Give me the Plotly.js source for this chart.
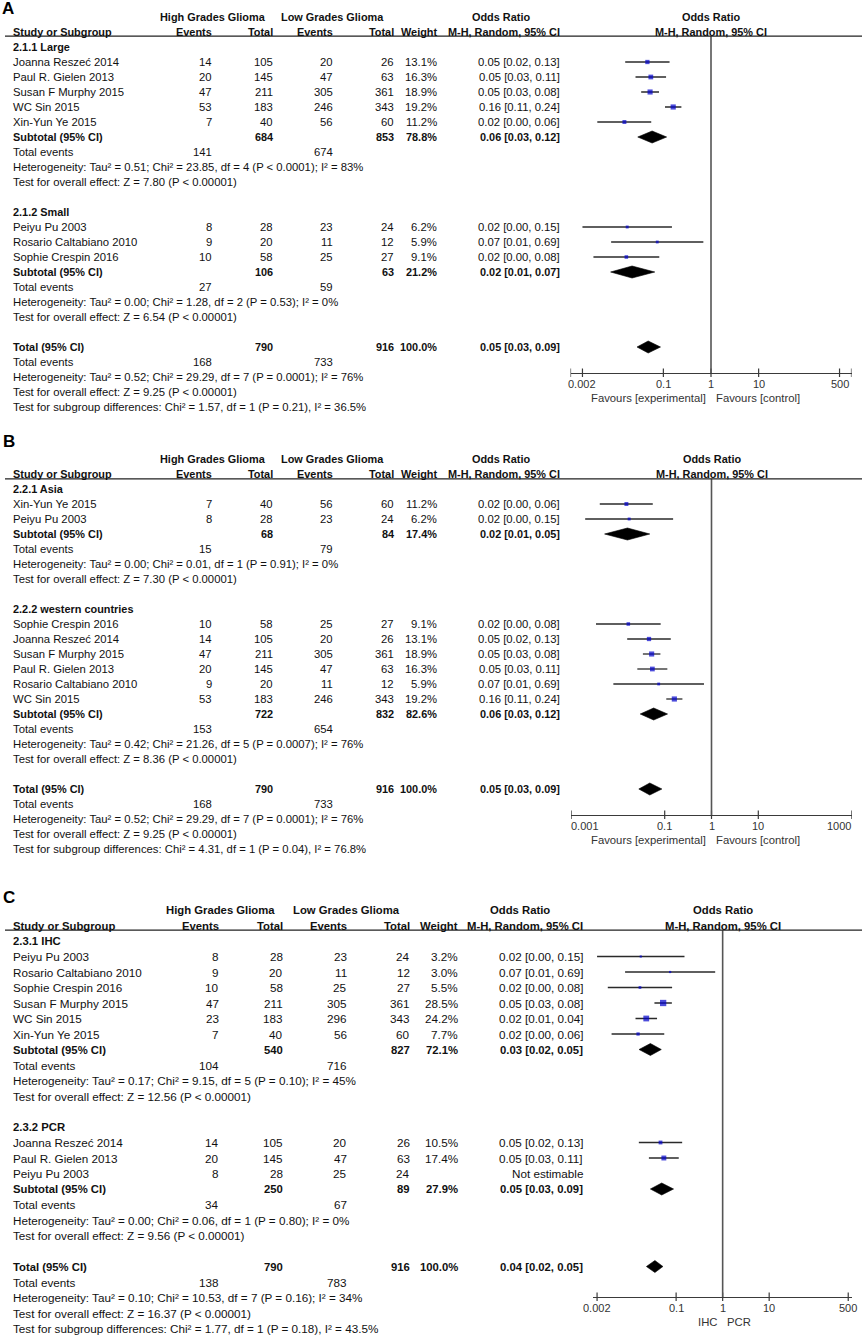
<!DOCTYPE html>
<html><head><meta charset="utf-8">
<script src="https://cdn.plot.ly/plotly-3.0.1.min.js"></script>
<style>html,body{margin:0;padding:0;background:#fff}</style>
</head><body><div id="chart" style="width:866px;height:1339px"></div>
<script>
// ================= DATA =================
const headerGroups = ['High Grades Glioma', 'Low Grades Glioma'];
const headerCols = ['Study or Subgroup', 'Events', 'Total', 'Events', 'Total', 'Weight', 'M-H, Random, 95% CI'];
const effectTitle = ['Odds Ratio', 'M-H, Random, 95% CI'];
const panelLetters = ['A', 'B', 'C'];

// ----- Panel A -----
const A_subgroups = ['2.1.1 Large', '2.1.2 Small'];
const A_studies = ['Joanna Reszeć 2014', 'Paul R. Gielen 2013', 'Susan F Murphy 2015', 'WC Sin 2015', 'Xin-Yun Ye 2015', 'Peiyu Pu 2003', 'Rosario Caltabiano 2010', 'Sophie Crespin 2016'];
const A_studyGroup = [0, 0, 0, 0, 0, 1, 1, 1];
const A_hiEvents = [14, 20, 47, 53, 7, 8, 9, 10];
const A_hiTotal = [105, 145, 211, 183, 40, 28, 20, 58];
const A_loEvents = [20, 47, 305, 246, 56, 23, 11, 25];
const A_loTotal = [26, 63, 361, 343, 60, 24, 12, 27];
const A_weight = [13.1, 16.3, 18.9, 19.2, 11.2, 6.2, 5.9, 9.1];
const A_or = [0.0462, 0.0545, 0.0526, 0.1608, 0.0152, 0.0174, 0.0744, 0.0167];
const A_orLow = [0.0158, 0.0260, 0.0342, 0.1081, 0.0041, 0.0020, 0.0080, 0.0034];
const A_orHigh = [0.1348, 0.1139, 0.0810, 0.2390, 0.0556, 0.1513, 0.6908, 0.0820];
const A_orText = ['0.05 [0.02, 0.13]', '0.05 [0.03, 0.11]', '0.05 [0.03, 0.08]', '0.16 [0.11, 0.24]', '0.02 [0.00, 0.06]', '0.02 [0.00, 0.15]', '0.07 [0.01, 0.69]', '0.02 [0.00, 0.08]'];
const A_subHiTotal = [684, 106];
const A_subLoTotal = [853, 63];
const A_subWeight = [78.8, 21.2];
const A_subHiEvents = [141, 27];
const A_subLoEvents = [674, 59];
const A_subOr = [0.058, 0.022];
const A_subLow = [0.029, 0.0078];
const A_subHigh = [0.117, 0.066];
const A_subText = ['0.06 [0.03, 0.12]', '0.02 [0.01, 0.07]'];
const A_subHet = ['Heterogeneity: Tau² = 0.51; Chi² = 23.85, df = 4 (P < 0.0001); I² = 83%', 'Heterogeneity: Tau² = 0.00; Chi² = 1.28, df = 2 (P = 0.53); I² = 0%'];
const A_subTest = ['Test for overall effect: Z = 7.80 (P < 0.00001)', 'Test for overall effect: Z = 6.54 (P < 0.00001)'];
const A_total = [790, 916];
const A_totalEvents = [168, 733];
const A_totalWeight = 100.0;
const A_totalOr = [0.048, 0.028, 0.087];
const A_totalText = '0.05 [0.03, 0.09]';
const A_totalNotes = ['Heterogeneity: Tau² = 0.52; Chi² = 29.29, df = 7 (P = 0.0001); I² = 76%', 'Test for overall effect: Z = 9.25 (P < 0.00001)', 'Test for subgroup differences: Chi² = 1.57, df = 1 (P = 0.21), I² = 36.5%'];
const A_tickVals = [0.002, 0.1, 1, 10, 500];
const A_tickText = ['0.002', '0.1', '1', '10', '500'];
const A_axisLabels = ['Favours [experimental]', 'Favours [control]'];

// ----- Panel B -----
const B_subgroups = ['2.2.1 Asia', '2.2.2 western countries'];
const B_studies = ['Xin-Yun Ye 2015', 'Peiyu Pu 2003', 'Sophie Crespin 2016', 'Joanna Reszeć 2014', 'Susan F Murphy 2015', 'Paul R. Gielen 2013', 'Rosario Caltabiano 2010', 'WC Sin 2015'];
const B_studyGroup = [0, 0, 1, 1, 1, 1, 1, 1];
const B_hiEvents = [7, 8, 10, 14, 47, 20, 9, 53];
const B_hiTotal = [40, 28, 58, 105, 211, 145, 20, 183];
const B_loEvents = [56, 23, 25, 20, 305, 47, 11, 246];
const B_loTotal = [60, 24, 27, 26, 361, 63, 12, 343];
const B_weight = [11.2, 6.2, 9.1, 13.1, 18.9, 16.3, 5.9, 19.2];
const B_or = [0.0152, 0.0174, 0.0167, 0.0462, 0.0526, 0.0545, 0.0744, 0.1608];
const B_orLow = [0.0041, 0.0020, 0.0034, 0.0158, 0.0342, 0.0260, 0.0080, 0.1081];
const B_orHigh = [0.0556, 0.1513, 0.0820, 0.1348, 0.0810, 0.1139, 0.6908, 0.2390];
const B_orText = ['0.02 [0.00, 0.06]', '0.02 [0.00, 0.15]', '0.02 [0.00, 0.08]', '0.05 [0.02, 0.13]', '0.05 [0.03, 0.08]', '0.05 [0.03, 0.11]', '0.07 [0.01, 0.69]', '0.16 [0.11, 0.24]'];
const B_subHiTotal = [68, 722];
const B_subLoTotal = [84, 832];
const B_subWeight = [17.4, 82.6];
const B_subHiEvents = [15, 153];
const B_subLoEvents = [79, 654];
const B_subOr = [0.016, 0.058];
const B_subLow = [0.0052, 0.030];
const B_subHigh = [0.048, 0.115];
const B_subText = ['0.02 [0.01, 0.05]', '0.06 [0.03, 0.12]'];
const B_subHet = ['Heterogeneity: Tau² = 0.00; Chi² = 0.01, df = 1 (P = 0.91); I² = 0%', 'Heterogeneity: Tau² = 0.42; Chi² = 21.26, df = 5 (P = 0.0007); I² = 76%'];
const B_subTest = ['Test for overall effect: Z = 7.30 (P < 0.00001)', 'Test for overall effect: Z = 8.36 (P < 0.00001)'];
const B_total = [790, 916];
const B_totalEvents = [168, 733];
const B_totalWeight = 100.0;
const B_totalOr = [0.048, 0.028, 0.087];
const B_totalText = '0.05 [0.03, 0.09]';
const B_totalNotes = ['Heterogeneity: Tau² = 0.52; Chi² = 29.29, df = 7 (P = 0.0001); I² = 76%', 'Test for overall effect: Z = 9.25 (P < 0.00001)', 'Test for subgroup differences: Chi² = 4.31, df = 1 (P = 0.04), I² = 76.8%'];
const B_tickVals = [0.001, 0.1, 1, 10, 1000];
const B_tickText = ['0.001', '0.1', '1', '10', '1000'];
const B_axisLabels = ['Favours [experimental]', 'Favours [control]'];

// ----- Panel C -----
const C_subgroups = ['2.3.1 IHC', '2.3.2 PCR'];
const C_studies = ['Peiyu Pu 2003', 'Rosario Caltabiano 2010', 'Sophie Crespin 2016', 'Susan F Murphy 2015', 'WC Sin 2015', 'Xin-Yun Ye 2015', 'Joanna Reszeć 2014', 'Paul R. Gielen 2013', 'Peiyu Pu 2003'];
const C_studyGroup = [0, 0, 0, 0, 0, 0, 1, 1, 1];
const C_hiEvents = [8, 9, 10, 47, 23, 7, 14, 20, 8];
const C_hiTotal = [28, 20, 58, 211, 183, 40, 105, 145, 28];
const C_loEvents = [23, 11, 25, 305, 296, 56, 20, 47, 25];
const C_loTotal = [24, 12, 27, 361, 343, 60, 26, 63, 24];
const C_weight = [3.2, 3.0, 5.5, 28.5, 24.2, 7.7, 10.5, 17.4, null];
const C_or = [0.0174, 0.0744, 0.0167, 0.0526, 0.0228, 0.0152, 0.0462, 0.0545, null];
const C_orLow = [0.0020, 0.0080, 0.0034, 0.0342, 0.0134, 0.0041, 0.0158, 0.0260, null];
const C_orHigh = [0.1513, 0.6908, 0.0820, 0.0810, 0.0389, 0.0556, 0.1348, 0.1139, null];
const C_orText = ['0.02 [0.00, 0.15]', '0.07 [0.01, 0.69]', '0.02 [0.00, 0.08]', '0.05 [0.03, 0.08]', '0.02 [0.01, 0.04]', '0.02 [0.00, 0.06]', '0.05 [0.02, 0.13]', '0.05 [0.03, 0.11]', 'Not estimable'];
const C_subHiTotal = [540, 250];
const C_subLoTotal = [827, 89];
const C_subWeight = [72.1, 27.9];
const C_subHiEvents = [104, 34];
const C_subLoEvents = [716, 67];
const C_subOr = [0.028, 0.049];
const C_subLow = [0.016, 0.028];
const C_subHigh = [0.048, 0.088];
const C_subText = ['0.03 [0.02, 0.05]', '0.05 [0.03, 0.09]'];
const C_subHet = ['Heterogeneity: Tau² = 0.17; Chi² = 9.15, df = 5 (P = 0.10); I² = 45%', 'Heterogeneity: Tau² = 0.00; Chi² = 0.06, df = 1 (P = 0.80); I² = 0%'];
const C_subTest = ['Test for overall effect: Z = 12.56 (P < 0.00001)', 'Test for overall effect: Z = 9.56 (P < 0.00001)'];
const C_total = [790, 916];
const C_totalEvents = [138, 783];
const C_totalWeight = 100.0;
const C_totalOr = [0.035, 0.023, 0.052];
const C_totalText = '0.04 [0.02, 0.05]';
const C_totalNotes = ['Heterogeneity: Tau² = 0.10; Chi² = 10.53, df = 7 (P = 0.16); I² = 34%', 'Test for overall effect: Z = 16.37 (P < 0.00001)', 'Test for subgroup differences: Chi² = 1.77, df = 1 (P = 0.18), I² = 43.5%'];
const C_tickVals = [0.002, 0.1, 1, 10, 500];
const C_tickText = ['0.002', '0.1', '1', '10', '500'];
const C_axisLabels = ['IHC', 'PCR'];

// ================= LAYOUT / STYLE =================
const W = 866, H = 1339;
const FONT = 'Liberation Sans, Arial, Helvetica, sans-serif';
const TXT = '#111';
const AXC = '#3a3a3a';
const colsAB = {name: 12.5, hiEv: 212, hiTot: 272.5, loEv: 333, loTot: 393.5, wt: 437, ci: 560, grpHi: 212.5, grpLo: 332.5, orHead: 501};
const GEOM = [
  {top: 47, step: 15, rmin: -3, rmax: 25.2, fs: 11.3, fsb: 10.9, cols: colsAB, plot: [570.5, 851.5], range: [-2.95, 2.95], axisPx: 373, lineRow: -0.73, lineX: [5, 862], letter: [2, 8], endTicks: true},
  {top: 489, step: 15, rmin: -3.5, rmax: 25.2, fs: 11.3, fsb: 10.9, cols: colsAB, plot: [571, 852], range: [-3.002, 3.002], axisPx: 815, lineRow: -0.68, lineX: [5, 862], letter: [3, 441], endTicks: false},
  {top: 941, step: 15.5, rmin: -3.2, rmax: 25.6, fs: 11.7, fsb: 11.3, cols: {name: 13.3, hiEv: 219, hiTot: 283, loEv: 346.5, loTot: 409.5, wt: 458, ci: 583, grpHi: 220, grpLo: 346, orHead: 520}, plot: [593.3, 852], range: [-2.78, 2.78], axisPx: 1297, lineRow: -0.7, lineX: [5, 862], letter: [3, 897], endTicks: false}
];

function panelSpec(p) {
  return {
    subgroups: p[0], studies: p[1], group: p[2], hiEv: p[3], hiTot: p[4], loEv: p[5], loTot: p[6], weight: p[7],
    or: p[8], lo: p[9], hi: p[10], orText: p[11], subHiTot: p[12], subLoTot: p[13], subWeight: p[14], subHiEv: p[15], subLoEv: p[16],
    subOr: p[17], subLo: p[18], subHi: p[19], subText: p[20], subHet: p[21], subTest: p[22], total: p[23], totalEvents: p[24],
    totalWeight: p[25], totalOr: p[26], totalText: p[27], totalNotes: p[28], tickVals: p[29], tickText: p[30], axisLabels: p[31]
  };
}
const PANELS = [
  panelSpec([A_subgroups, A_studies, A_studyGroup, A_hiEvents, A_hiTotal, A_loEvents, A_loTotal, A_weight, A_or, A_orLow, A_orHigh, A_orText, A_subHiTotal, A_subLoTotal, A_subWeight, A_subHiEvents, A_subLoEvents, A_subOr, A_subLow, A_subHigh, A_subText, A_subHet, A_subTest, A_total, A_totalEvents, A_totalWeight, A_totalOr, A_totalText, A_totalNotes, A_tickVals, A_tickText, A_axisLabels]),
  panelSpec([B_subgroups, B_studies, B_studyGroup, B_hiEvents, B_hiTotal, B_loEvents, B_loTotal, B_weight, B_or, B_orLow, B_orHigh, B_orText, B_subHiTotal, B_subLoTotal, B_subWeight, B_subHiEvents, B_subLoEvents, B_subOr, B_subLow, B_subHigh, B_subText, B_subHet, B_subTest, B_total, B_totalEvents, B_totalWeight, B_totalOr, B_totalText, B_totalNotes, B_tickVals, B_tickText, B_axisLabels]),
  panelSpec([C_subgroups, C_studies, C_studyGroup, C_hiEvents, C_hiTotal, C_loEvents, C_loTotal, C_weight, C_or, C_orLow, C_orHigh, C_orText, C_subHiTotal, C_subLoTotal, C_subWeight, C_subHiEvents, C_subLoEvents, C_subOr, C_subLow, C_subHigh, C_subText, C_subHet, C_subTest, C_total, C_totalEvents, C_totalWeight, C_totalOr, C_totalText, C_totalNotes, C_tickVals, C_tickText, C_axisLabels])
];

const traces = [], annotations = [], shapes = [];
const layout = {
  width: W, height: H, autosize: false, showlegend: false,
  margin: {l: 0, r: 0, t: 0, b: 0, pad: 0},
  paper_bgcolor: '#fff', plot_bgcolor: 'rgba(0,0,0,0)',
  font: {family: FONT, color: TXT}
};

PANELS.forEach((P, k) => {
  const G = GEOM[k];
  const n = k + 1;
  const xa = n === 1 ? 'x' : 'x' + n, ya = n === 1 ? 'y' : 'y' + n;
  const xaL = n === 1 ? 'xaxis' : 'xaxis' + n, yaL = n === 1 ? 'yaxis' : 'yaxis' + n;
  const C = G.cols;
  const pxRow = p => (p - G.top) / G.step;
  const yfrac = p => 1 - p / H;
  const T = (xp, row, text, anchor, opt) => {
    opt = opt || {};
    annotations.push({
      xref: 'paper', yref: ya, x: xp / W, y: row, text: opt.bold ? '<b>' + text + '</b>' : text, xanchor: anchor, yanchor: 'middle',
      showarrow: false, borderpad: 0, borderwidth: 0,
      font: {family: FONT, size: opt.size || (opt.bold ? G.fsb : G.fs), color: opt.color || TXT}
    });
  };
  // text placed on the forest-plot axis (log axis: annotation x is log10 of the value)
  const TA = (val, row, text, anchor, opt) => {
    opt = opt || {};
    annotations.push({
      xref: xa, yref: ya, x: Math.log10(val), y: row, text: opt.bold ? '<b>' + text + '</b>' : text, xanchor: anchor, yanchor: 'middle',
      xshift: opt.xshift || 0, showarrow: false, borderpad: 0, borderwidth: 0,
      font: {family: FONT, size: opt.size || (opt.bold ? G.fsb : G.fs), color: opt.color || TXT}
    });
  };

  // axes
  const top = G.top + G.step * G.rmin, bottom = G.top + G.step * G.rmax;
  layout[yaL] = {domain: [yfrac(bottom), yfrac(top)], range: [G.rmax, G.rmin], visible: false, fixedrange: true, showgrid: false, zeroline: false};
  layout[xaL] = {
    type: 'log', domain: [G.plot[0] / W, G.plot[1] / W], range: G.range, anchor: 'free', position: yfrac(G.axisPx),
    showline: true, linecolor: AXC, linewidth: 1.3, ticks: '', showticklabels: false,
    showgrid: false, zeroline: false, fixedrange: true
  };
  const axisRow = pxRow(G.axisPx);

  // tick marks (crossing the axis line) and tick labels
  let tv = P.tickVals.slice();
  if (G.endTicks) tv.push(Math.pow(10, G.range[0]), Math.pow(10, G.range[1]));
  const tx = [], ty = [];
  tv.forEach(v => { tx.push(v, v, null); ty.push(axisRow - 4.5 / G.step, axisRow + 4 / G.step, null); });
  traces.push({type: 'scatter', mode: 'lines', xaxis: xa, yaxis: ya, x: tx, y: ty, line: {color: AXC, width: 1.2}, hoverinfo: 'skip', cliponaxis: false});
  const labRowTick = pxRow(G.axisPx + 10.5);
  P.tickVals.forEach((v, i) => {
    const lv = Math.log10(v);
    let anchor = 'center';
    if (Math.abs(lv - G.range[0]) < 0.05) anchor = 'left';
    if (Math.abs(lv - G.range[1]) < 0.05) anchor = 'right';
    TA(v, labRowTick, P.tickText[i], anchor, {size: 11, color: '#333', xshift: anchor === 'right' ? -1 : 0});
  });

  // panel letter
  T(G.letter[0], pxRow(G.letter[1]), panelLetters[k], 'left', {size: 17, color: '#000', bold: true});

  // headers
  T(C.grpHi, -2, headerGroups[0], 'center', {bold: true});
  T(C.grpLo, -2, headerGroups[1], 'center', {bold: true});
  T(C.orHead, -2, effectTitle[0], 'center', {bold: true});
  TA(1, -2, effectTitle[0], 'center', {bold: true});
  T(C.name, -1, headerCols[0], 'left', {bold: true});
  T(C.hiEv, -1, headerCols[1], 'right', {bold: true});
  T(C.hiTot, -1, headerCols[2], 'right', {bold: true});
  T(C.loEv, -1, headerCols[3], 'right', {bold: true});
  T(C.loTot, -1, headerCols[4], 'right', {bold: true});
  T(C.wt, -1, headerCols[5], 'right', {bold: true});
  T(C.ci, -1, headerCols[6], 'right', {bold: true});
  TA(1, -1, effectTitle[1], 'center', {bold: true});
  shapes.push({type: 'line', xref: 'paper', yref: ya, x0: G.lineX[0] / W, x1: G.lineX[1] / W, y0: G.lineRow, y1: G.lineRow,
    line: {color: '#222', width: 1.2}});

  // rows
  let row = 0;
  const studyRow = [], subRow = [];
  P.subgroups.forEach((g, gi) => {
    T(C.name, row, g, 'left', {bold: true}); row++;
    P.group.forEach((sg, i) => {
      if (sg !== gi) return;
      studyRow[i] = row;
      T(C.name, row, P.studies[i], 'left');
      T(C.hiEv, row, String(P.hiEv[i]), 'right');
      T(C.hiTot, row, String(P.hiTot[i]), 'right');
      T(C.loEv, row, String(P.loEv[i]), 'right');
      T(C.loTot, row, String(P.loTot[i]), 'right');
      if (P.weight[i] !== null) T(C.wt, row, P.weight[i].toFixed(1) + '%', 'right');
      T(C.ci, row, P.orText[i], 'right');
      row++;
    });
    subRow[gi] = row;
    T(C.name, row, 'Subtotal (95% CI)', 'left', {bold: true});
    T(C.hiTot, row, String(P.subHiTot[gi]), 'right', {bold: true});
    T(C.loTot, row, String(P.subLoTot[gi]), 'right', {bold: true});
    T(C.wt, row, P.subWeight[gi].toFixed(1) + '%', 'right', {bold: true});
    T(C.ci, row, P.subText[gi], 'right', {bold: true});
    row++;
    T(C.name, row, 'Total events', 'left');
    T(C.hiEv, row, String(P.subHiEv[gi]), 'right');
    T(C.loEv, row, String(P.subLoEv[gi]), 'right');
    row++;
    T(C.name, row, P.subHet[gi], 'left'); row++;
    T(C.name, row, P.subTest[gi], 'left'); row++;
    row++;
  });
  const totRow = row;
  T(C.name, row, 'Total (95% CI)', 'left', {bold: true});
  T(C.hiTot, row, String(P.total[0]), 'right', {bold: true});
  T(C.loTot, row, String(P.total[1]), 'right', {bold: true});
  T(C.wt, row, P.totalWeight.toFixed(1) + '%', 'right', {bold: true});
  T(C.ci, row, P.totalText, 'right', {bold: true});
  row++;
  T(C.name, row, 'Total events', 'left');
  T(C.hiEv, row, String(P.totalEvents[0]), 'right');
  T(C.loEv, row, String(P.totalEvents[1]), 'right');
  row++;
  P.totalNotes.forEach(s => { T(C.name, row, s, 'left'); row++; });

  // axis labels under the scale
  const labRow = pxRow(G.axisPx + 24.5);
  TA(1, labRow, P.axisLabels[0], 'right', {size: 11.3, color: '#333', xshift: -5.5});
  TA(1, labRow, P.axisLabels[1], 'left', {size: 11.3, color: '#333', xshift: 4.5});

  // vertical line of no effect (OR = 1)
  traces.push({type: 'scatter', mode: 'lines', xaxis: xa, yaxis: ya, x: [1, 1], y: [G.lineRow, axisRow],
    line: {color: '#555', width: 1.6}, hoverinfo: 'skip', cliponaxis: false});

  // CI lines
  const cx = [], cy = [];
  P.or.forEach((v, i) => { if (v === null) return; cx.push(P.lo[i], P.hi[i], null); cy.push(studyRow[i], studyRow[i], null); });
  traces.push({type: 'scatter', mode: 'lines', xaxis: xa, yaxis: ya, x: cx, y: cy, line: {color: '#2a2a2a', width: 1.3},
    hoverinfo: 'skip', cliponaxis: false});
  // study squares (size grows with weight)
  const mx = [], my = [], ms = [];
  P.or.forEach((v, i) => { if (v === null) return; mx.push(v); my.push(studyRow[i]); ms.push(Math.max(2.2, 1.18 * Math.sqrt(P.weight[i]))); });
  traces.push({type: 'scatter', mode: 'markers', xaxis: xa, yaxis: ya, x: mx, y: my,
    marker: {symbol: 'square', size: ms, color: '#0000cc', line: {width: 0}}, hoverinfo: 'skip', cliponaxis: false});
  // pooled diamonds
  const hh = 6 / G.step;
  const diamond = (est, lo, hi, r) => traces.push({type: 'scatter', mode: 'lines', xaxis: xa, yaxis: ya,
    x: [lo, est, hi, est, lo], y: [r, r - hh, r, r + hh, r], fill: 'toself', fillcolor: '#000',
    line: {color: '#000', width: 0.6}, hoverinfo: 'skip', cliponaxis: false});
  P.subOr.forEach((v, gi) => diamond(v, P.subLo[gi], P.subHi[gi], subRow[gi]));
  diamond(P.totalOr[0], P.totalOr[1], P.totalOr[2], totRow);
});

layout.annotations = annotations;
layout.shapes = shapes;
Plotly.newPlot('chart', traces, layout, {staticPlot: true, displayModeBar: false});
</script>
</body></html>
